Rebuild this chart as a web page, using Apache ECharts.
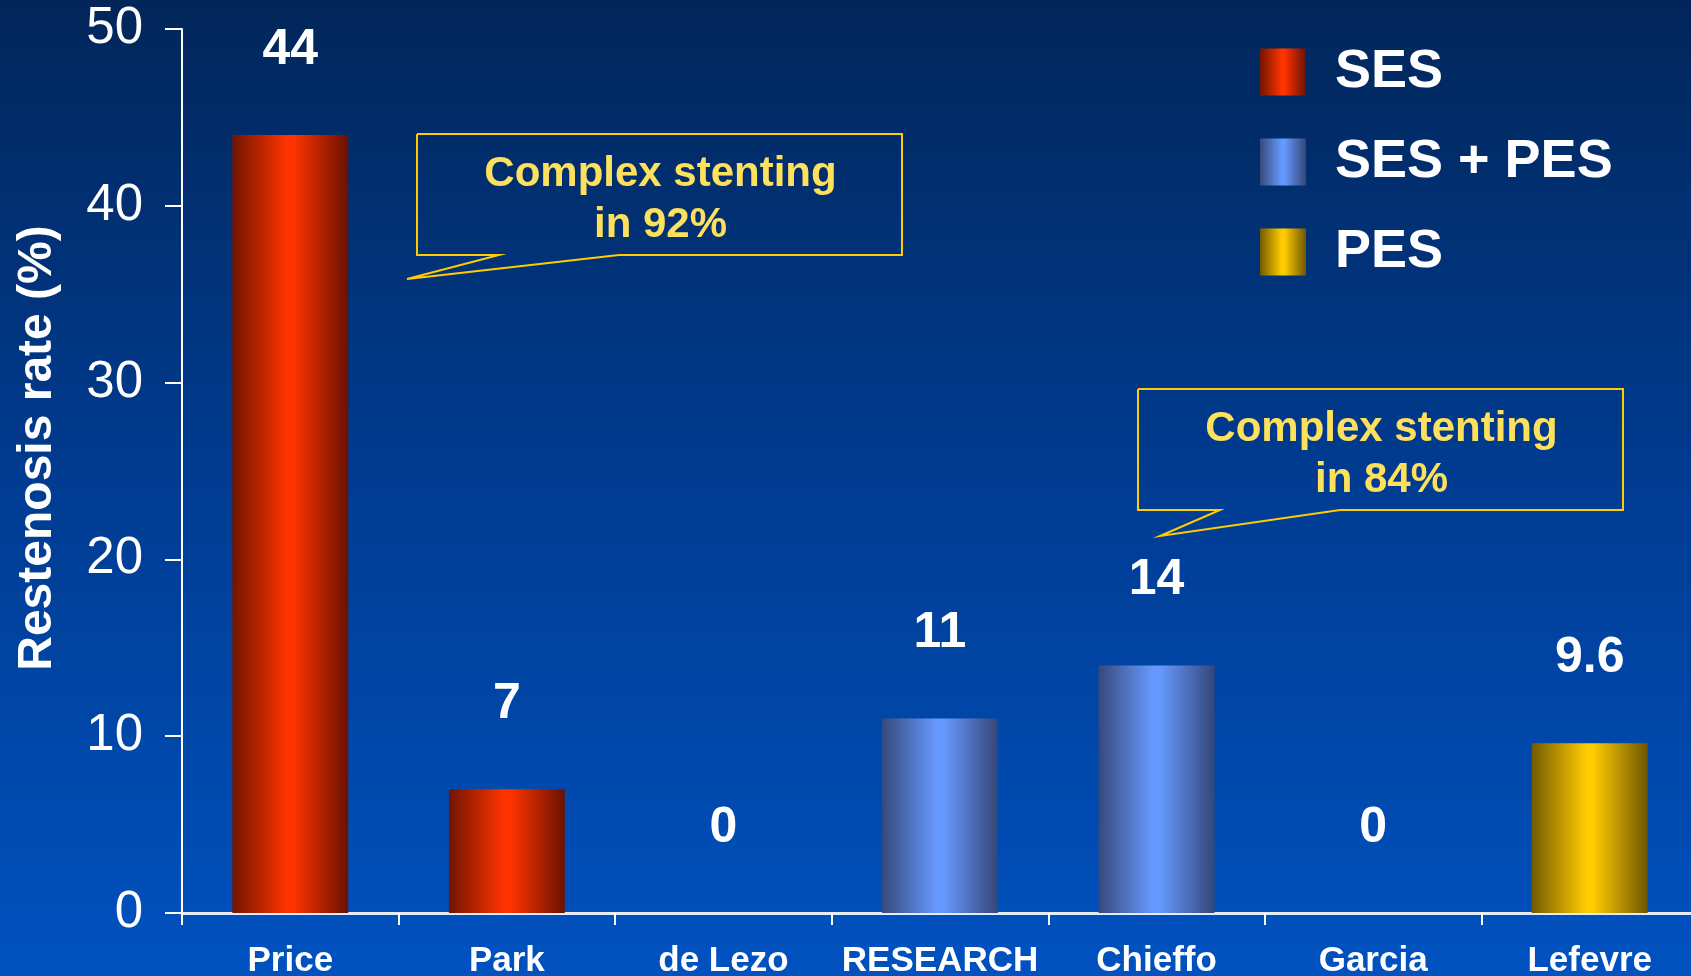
<!DOCTYPE html>
<html>
<head>
<meta charset="utf-8">
<style>
  html, body { margin: 0; padding: 0; background: #01306e; }
  #chart { width: 1691px; height: 976px; }
</style>
<script src="https://cdn.jsdelivr.net/npm/echarts@6/dist/echarts.min.js"></script>
</head>
<body>
<div id="chart"></div>
<script>
// Restenosis rate by study, grouped by stent type
const categories = ['Price', 'Park', 'de Lezo', 'RESEARCH', 'Chieffo', 'Garcia', 'Lefevre'];
const sesValues    = [44, 7, 0, '-', '-', '-', '-'];
const sesPesValues = ['-', '-', '-', 11, 14, '-', '-'];
const pesValues    = ['-', '-', '-', '-', '-', 0, 9.6];
const yTicks = { min: 0, max: 50, interval: 10 };
const seriesNames = ['SES', 'SES + PES', 'PES'];

const FONT = '"Liberation Sans", Arial, sans-serif';

function cylinder(edgeL, mid, edgeR) {
  return new echarts.graphic.LinearGradient(0, 0, 1, 0, [
    { offset: 0, color: edgeL },
    { offset: 0.47, color: mid },
    { offset: 0.53, color: mid },
    { offset: 1, color: edgeR }
  ]);
}

const chart = echarts.init(document.getElementById('chart'));

const barLabel = {
  show: true,
  position: 'top',
  distance: 60,
  color: '#ffffff',
  fontFamily: FONT,
  fontWeight: 'bold',
  fontSize: 50
};

function barSeries(name, values, fill) {
  return {
    name: name,
    type: 'bar',
    stack: 'study',
    barWidth: '53.5%',
    data: values,
    itemStyle: { color: fill },
    label: barLabel
  };
}

// Callout box with a pointer tail on its lower edge
function callout(x, y, w, h, tailA, tip, tailB, lines) {
  return {
    type: 'group',
    children: [
      {
        type: 'polyline',
        shape: {
          points: [
            [x, y], [x + w, y], [x + w, y + h], [tailB, y + h],
            tip, [tailA, y + h], [x, y + h], [x, y]
          ]
        },
        style: { stroke: '#ffcc00', lineWidth: 2, fill: null }
      },
      {
        type: 'text',
        x: x + w / 2 + 1,
        y: y + h / 2 + 5,
        style: {
          text: lines.join('\n'),
          fill: '#fde05c',
          font: 'bold 42px ' + FONT,
          lineHeight: 51,
          align: 'center',
          verticalAlign: 'middle'
        }
      }
    ]
  };
}

chart.setOption({
  backgroundColor: new echarts.graphic.LinearGradient(0, 0, 0, 1, [
    { offset: 0, color: '#02265a' },
    { offset: 0.5, color: '#003c92' },
    { offset: 1, color: '#0052c0' }
  ]),
  animation: false,
  grid: { left: 182, top: 29, width: 1516, height: 884, outerBoundsMode: 'none', containLabel: false },
  legend: {
    orient: 'vertical',
    left: 1260,
    top: 45,
    padding: 0,
    itemWidth: 46,
    itemHeight: 47,
    itemGap: 36,
    icon: 'rect',
    data: seriesNames,
    textStyle: {
      color: '#ffffff',
      fontFamily: FONT,
      fontWeight: 'bold',
      fontSize: 54,
      lineHeight: 47,
      padding: [0, 0, 0, 24]
    }
  },
  xAxis: {
    type: 'category',
    data: categories,
    axisLine: { lineStyle: { color: '#e6ecf6', width: 3 } },
    axisTick: { show: true, interval: 0, alignWithLabel: false, length: 12, lineStyle: { color: '#ffffff', width: 2 } },
    axisLabel: {
      interval: 0,
      color: '#ffffff',
      fontFamily: FONT,
      fontWeight: 'bold',
      fontSize: 35,
      margin: 31
    }
  },
  yAxis: {
    type: 'value',
    min: yTicks.min,
    max: yTicks.max,
    interval: yTicks.interval,
    name: 'Restenosis rate (%)',
    nameLocation: 'middle',
    nameGap: 120,
    nameRotate: 90,
    nameTextStyle: {
      color: '#ffffff',
      fontFamily: FONT,
      fontWeight: 'bold',
      fontSize: 48,
      padding: [0, 0, 0, 46]
    },
    splitLine: { show: false },
    axisLine: { show: true, lineStyle: { color: '#ffffff', width: 2 } },
    axisTick: { show: true, length: 17, lineStyle: { color: '#ffffff', width: 2 } },
    axisLabel: {
      color: '#ffffff',
      fontFamily: FONT,
      fontSize: 51,
      margin: 39
    }
  },
  series: [
    barSeries(seriesNames[0], sesValues, cylinder('#701500', '#ff3300', '#6a1200')),
    barSeries(seriesNames[1], sesPesValues, cylinder('#37497a', '#6699ff', '#344677')),
    barSeries(seriesNames[2], pesValues, cylinder('#735a00', '#ffcc00', '#6e5600'))
  ],
  graphic: [
    callout(417, 134, 485, 121, 499, [407, 279], 619, ['Complex stenting', 'in 92%']),
    callout(1138, 389, 485, 121, 1220, [1160, 536], 1340, ['Complex stenting', 'in 84%'])
  ]
});
</script>
</body>
</html>
